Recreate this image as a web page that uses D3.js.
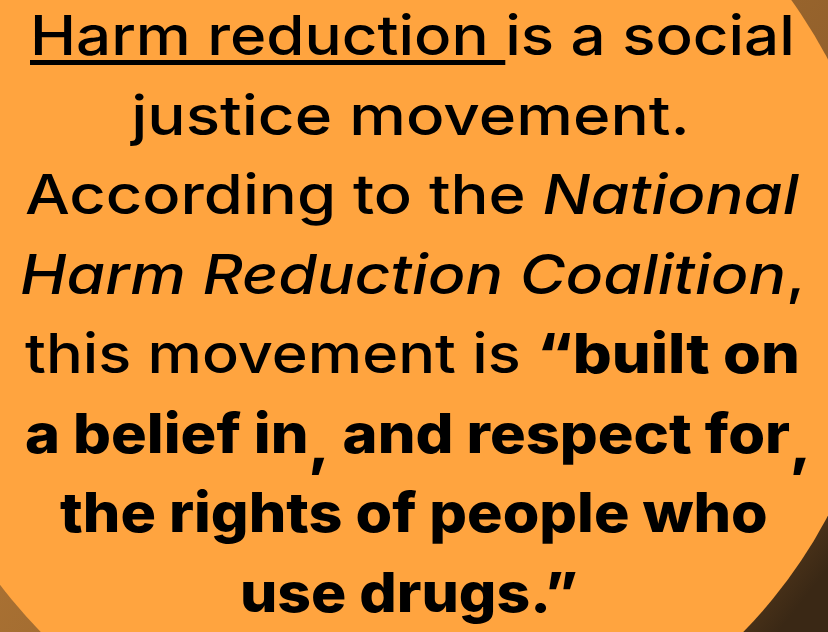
<!DOCTYPE html>
<html>
<head>
<meta charset="utf-8">
<script src="https://cdn.jsdelivr.net/npm/d3@7"></script>
<style>
  body { margin: 0; background: #3a2815; }
  svg { display: block; }
</style>
</head>
<body>
<div id="viz_container"></div>
<script>
// the text, one entry per line, split into styled pieces
// kind: "u" underlined, "i" italic, "b" bold, "bc" bold lowered comma
const line1 = [{ t: "Harm reduction ", kind: "u" }, { t: "is a social", kind: "" }];
const line2 = [{ t: "justice movement.", kind: "" }];
const line3 = [{ t: "According to the ", kind: "" }, { t: "National", kind: "i" }];
const line4 = [{ t: "Harm Reduction Coalition", kind: "i" }, { t: ",", kind: "" }];
const line5 = [{ t: "this movement is ", kind: "" }, { t: "\u201Cbuilt on", kind: "b" }];
const line6 = [{ t: "a belief in", kind: "b" }, { t: ",", kind: "bc" }, { t: " and respect for", kind: "b" }, { t: ",", kind: "bc" }];
const line7 = [{ t: "the rights of people who", kind: "b" }];
const line8 = [{ t: "use drugs.\u201D", kind: "b" }];
const textLines = [line1, line2, line3, line4, line5, line6, line7, line8];

// horizontal extent each line takes in the picture
const lineLeft  = [30, 130, 25, 20, 25, 25, 60, 240];
const lineRight = [795, 690, 800, 805, 800, 805, 768, 578];

const W = 828, H = 632;

const svg = d3.select("#viz_container")
  .append("svg")
    .attr("width", W)
    .attr("height", H);

const defs = svg.append("defs");

// dark brown corners
const grad = defs.append("linearGradient")
    .attr("id", "corner")
    .attr("x1", 0).attr("y1", 0.3)
    .attr("x2", 1).attr("y2", 0.9);
grad.append("stop").attr("offset", 0).attr("stop-color", "#b87c38");
grad.append("stop").attr("offset", 0.8).attr("stop-color", "#8a5a28");
grad.append("stop").attr("offset", 1).attr("stop-color", "#3a2815");

svg.append("rect")
    .attr("width", W)
    .attr("height", H)
    .attr("fill", "url(#corner)");

// big orange circle
svg.append("circle")
    .attr("cx", 392)
    .attr("cy", 287.5)
    .attr("r", 492)
    .attr("fill", "#ffa43f");

// baseline of each line
const yScale = d3.scaleLinear()
    .domain([0, textLines.length - 1])
    .range([55, 612]);

textLines.forEach((segs, i) => {
  const g = svg.append("g");
  const text = g.append("text")
      .attr("x", 0)
      .attr("y", 0)
      .style("font-family", "Inter, 'Noto Sans', sans-serif")
      .style("font-size", "55px")
      .style("font-weight", 500)
      .attr("fill", "#000");

  segs.forEach((s, j) => {
    const ts = text.append("tspan").text(s.t);
    if (s.kind === "i") ts.style("font-style", "italic");
    if (s.kind === "b" || s.kind === "bc") ts.style("font-weight", 800);
    // lowered comma, then back up to the baseline
    if (s.kind === "bc") ts.attr("dy", j > 0 && segs[j - 1].kind === "bc" ? 0 : 11);
    else if (j > 0 && segs[j - 1].kind === "bc") ts.attr("dy", -11);
  });

  // underline
  let pos = 0;
  segs.forEach(s => {
    if (s.kind === "u") {
      const node = text.node();
      const a = node.getStartPositionOfChar(pos).x;
      const b = node.getEndPositionOfChar(pos + s.t.length - 1).x;
      g.append("rect")
          .attr("x", a)
          .attr("y", 5)
          .attr("width", b - a)
          .attr("height", 5)
          .attr("fill", "#000");
    }
    pos += s.t.length;
  });

  // stretch to the width the line has in the picture
  const box = text.node().getBBox();
  const sx = (lineRight[i] - lineLeft[i]) / box.width;
  g.attr("transform", `translate(${lineLeft[i]},${yScale(i)}) scale(${sx},1) translate(${-box.x},0)`);
});
</script>
</body>
</html>
